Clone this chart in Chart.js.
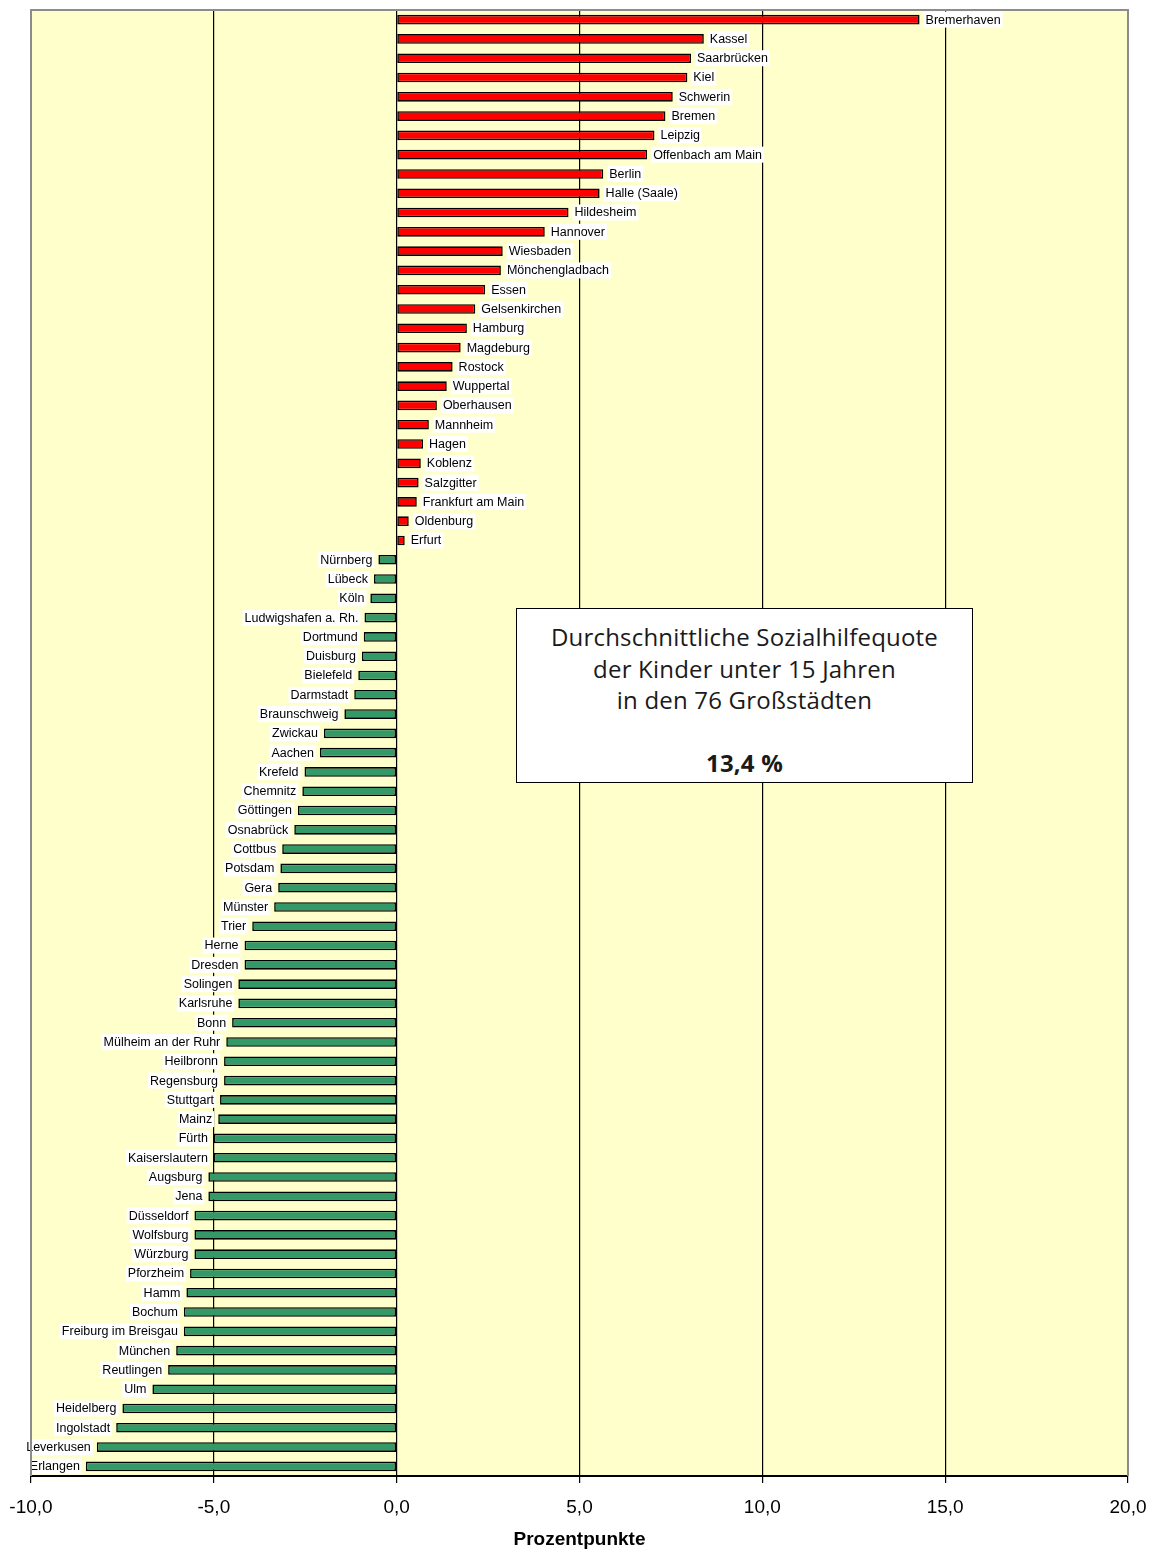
<!DOCTYPE html>
<html>
<head>
<meta charset="utf-8">
<script src="https://cdn.jsdelivr.net/npm/chart.js@4"></script>
<style>
  html, body { margin: 0; padding: 0; background: #ffffff; }
  #wrap { position: relative; width: 1150px; height: 1554px; }
  #note {
    position: absolute; left: 516px; top: 608px; width: 457px; height: 175px;
    background: #ffffff; border: 1.5px solid #000; box-sizing: border-box;
    font-family: "Open Sans", "Noto Sans", sans-serif; font-size: 24px; color: #1a1a1a;
    letter-spacing: 0.2px;
    text-align: center; line-height: 31.5px; padding-top: 12px;
  }
  #note b { font-weight: 700; }
</style>
</head>
<body>
<div id="wrap">
  <canvas id="c" width="1150" height="1554"></canvas>
  <div id="note">Durchschnittliche Sozialhilfequote<br>der Kinder unter 15 Jahren<br>in den 76 Großstädten<br>&nbsp;<br><b>13,4 %</b></div>
</div>
<script>
const cities = ["Bremerhaven","Kassel","Saarbrücken","Kiel","Schwerin","Bremen","Leipzig","Offenbach am Main","Berlin","Halle (Saale)","Hildesheim","Hannover","Wiesbaden","Mönchengladbach","Essen","Gelsenkirchen","Hamburg","Magdeburg","Rostock","Wuppertal","Oberhausen","Mannheim","Hagen","Koblenz","Salzgitter","Frankfurt am Main","Oldenburg","Erfurt","Nürnberg","Lübeck","Köln","Ludwigshafen a. Rh.","Dortmund","Duisburg","Bielefeld","Darmstadt","Braunschweig","Zwickau","Aachen","Krefeld","Chemnitz","Göttingen","Osnabrück","Cottbus","Potsdam","Gera","Münster","Trier","Herne","Dresden","Solingen","Karlsruhe","Bonn","Mülheim an der Ruhr","Heilbronn","Regensburg","Stuttgart","Mainz","Fürth","Kaiserslautern","Augsburg","Jena","Düsseldorf","Wolfsburg","Würzburg","Pforzheim","Hamm","Bochum","Freiburg im Breisgau","München","Reutlingen","Ulm","Heidelberg","Ingolstadt","Leverkusen","Erlangen"];

const values = [14.3, 8.4, 8.05, 7.95, 7.55, 7.35, 7.05, 6.85, 5.65, 5.55, 4.7, 4.05, 2.9, 2.85, 2.42, 2.15, 1.92, 1.75, 1.53, 1.37, 1.1, 0.88, 0.72, 0.66, 0.6, 0.55, 0.33, 0.22, -0.5, -0.62, -0.72, -0.88, -0.9, -0.95, -1.05, -1.16, -1.43, -1.99, -2.1, -2.52, -2.58, -2.7, -2.8, -3.13, -3.18, -3.24, -3.35, -3.95, -4.16, -4.16, -4.33, -4.33, -4.5, -4.66, -4.72, -4.72, -4.83, -4.88, -5.0, -5.0, -5.15, -5.15, -5.53, -5.53, -5.53, -5.65, -5.75, -5.82, -5.82, -6.03, -6.25, -6.68, -7.5, -7.67, -8.2, -8.5];

const xTicks = [-10, -5, 0, 5, 10, 15, 20];
const xTickLabels = ["-10,0", "-5,0", "0,0", "5,0", "10,0", "15,0", "20,0"];
const axisTitle = "Prozentpunkte";

const bgPlugin = {
  id: 'bg',
  beforeDraw(chart) {
    const {ctx, chartArea: a} = chart;
    ctx.save();
    ctx.fillStyle = '#FFFFCC';
    ctx.fillRect(a.left, a.top, a.right - a.left, a.bottom - a.top);
    ctx.restore();
  },
  afterDraw(chart) {
    const {ctx, chartArea: a} = chart;
    ctx.save();
    ctx.strokeStyle = '#8c8c8c';
    ctx.lineWidth = 2;
    ctx.beginPath();
    ctx.moveTo(a.left, a.bottom);
    ctx.lineTo(a.left, a.top);
    ctx.lineTo(a.right, a.top);
    ctx.lineTo(a.right, a.bottom);
    ctx.stroke();
    ctx.restore();
  }
};

const labelPlugin = {
  id: 'barLabels',
  afterDatasetsDraw(chart) {
    const {ctx} = chart;
    const meta = chart.getDatasetMeta(0);
    ctx.save();
    ctx.font = '12.5px "Liberation Sans", Arial, sans-serif';
    ctx.textBaseline = 'middle';
    meta.data.forEach((bar, i) => {
      const v = values[i];
      const txt = cities[i];
      const w = ctx.measureText(txt).width;
      const y = bar.y;
      const tx = v >= 0 ? bar.x + 6 : bar.x - 6 - w;
      ctx.fillStyle = '#ffffff';
      ctx.fillRect(tx - 2, y - 8, w + 4, 16);
      ctx.fillStyle = '#000000';
      ctx.textAlign = 'left';
      ctx.fillText(txt, tx, y + 0.5);
    });
    ctx.restore();
  }
};

new Chart(document.getElementById('c'), {
  type: 'bar',
  data: {
    labels: cities,
    datasets: [{
      data: values,
      backgroundColor: ctx => (ctx.raw >= 0 ? '#FF0000' : '#339966'),
      borderColor: '#000000',
      borderWidth: 1.6,
      borderSkipped: false,
      barPercentage: 0.5,
      categoryPercentage: 1.0
    }]
  },
  options: {
    indexAxis: 'y',
    responsive: false,
    animation: false,
    devicePixelRatio: 1,
    layout: { padding: { left: 31, right: 22, top: 10, bottom: 0 } },
    plugins: { legend: { display: false }, tooltip: { enabled: false } },
    scales: {
      x: {
        min: xTicks[0],
        max: xTicks[xTicks.length - 1],
        afterBuildTicks: s => { s.ticks = xTicks.map(v => ({ value: v })); },
        afterFit: s => { s.height = 78; s.paddingLeft = 0; s.paddingRight = 0; },
        grid: {
          color: c => (c.tick && (c.tick.value === xTicks[0] || c.tick.value === xTicks[xTicks.length - 1])) ? '#8c8c8c' : '#000000',
          lineWidth: 1.2,
          tickColor: '#000000',
          tickLength: 7,
          drawOnChartArea: true
        },
        border: { color: '#000000', width: 2 },
        ticks: {
          color: '#000000',
          font: { family: '"Liberation Sans", Arial, sans-serif', size: 19 },
          padding: 13,
          maxRotation: 0,
          callback: (v, i) => xTickLabels[i]
        },
        title: {
          display: true,
          text: axisTitle,
          color: '#000000',
          font: { family: '"Liberation Sans", Arial, sans-serif', size: 19, weight: 'bold' },
          padding: { top: 0, bottom: 3 }
        }
      },
      y: {
        display: false,
        grid: { display: false }
      }
    }
  },
  plugins: [bgPlugin, labelPlugin]
});
</script>
</body>
</html>
